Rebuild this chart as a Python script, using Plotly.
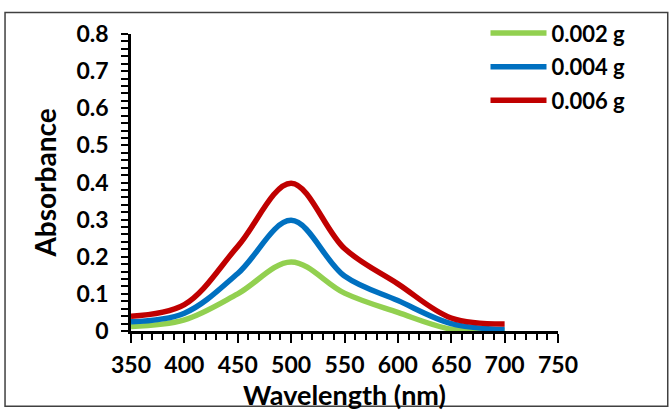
import plotly.graph_objects as go

wavelength = [350, 400, 450, 500, 550, 600, 650, 700]
abs_0002 = [0.012, 0.030, 0.100, 0.186, 0.102, 0.050, 0.005, 0.001]
abs_0004 = [0.025, 0.048, 0.155, 0.298, 0.148, 0.082, 0.020, 0.004]
abs_0006 = [0.040, 0.071, 0.228, 0.398, 0.222, 0.127, 0.035, 0.019]
series_names = ["0.002 g", "0.004 g", "0.006 g"]
colors = ["#92D050", "#0070C0", "#C00000"]

x_ticks = [350, 400, 450, 500, 550, 600, 650, 700, 750]

FONT = "Lato"

fig = go.Figure()
for i, (name, ys) in enumerate(zip(series_names, [abs_0002, abs_0004, abs_0006])):
    fig.add_trace(go.Scatter(
        x=wavelength, y=ys, name=name, mode="lines",
        line=dict(color=colors[i], width=5.5, shape="spline", smoothing=1.0),
        legendgroup=f"g{i}",
    ))

axis_common = dict(
    showline=True, linecolor="black", linewidth=2.5,
    ticks="outside", tickcolor="black", tickwidth=2,
    showgrid=False, zeroline=False, automargin=False,
    tickfont=dict(family=FONT, size=23, color="black", weight="bold"),
)

fig.update_xaxes(
    range=[350, 750], tickvals=x_ticks, ticklen=9, ticklabelstandoff=3,
    minor=dict(dtick=10, ticks="outside", ticklen=6, tickwidth=2, tickcolor="black", showgrid=False),
    title=dict(text="<b>Wavelength (nm)</b>", font=dict(family=FONT, size=27, color="black"), standoff=0),
    **axis_common,
)
fig.update_yaxes(
    range=[0, 0.8], dtick=0.1, ticklen=7, ticklabelstandoff=8,
    minor=dict(dtick=0.02, ticks="outside", ticklen=7, tickwidth=2, tickcolor="black", showgrid=False),
    title=dict(text="<b>Absorbance</b>", font=dict(family=FONT, size=28, color="black"), standoff=12),
    **axis_common,
)

fig.update_layout(
    width=672, height=412,
    margin=dict(l=131, r=114, t=26, b=81),
    paper_bgcolor="white", plot_bgcolor="white",
    showlegend=True,
    legend=dict(
        x=1.0, y=1.073, xanchor="center", yanchor="top",
        font=dict(family=FONT, size=22, color="black", weight="bold"),
        itemwidth=56, tracegroupgap=2, bgcolor="rgba(0,0,0,0)",
    ),
    shapes=[dict(
        type="rect", xref="paper", yref="paper",
        x0=-0.295, x1=1.257, y0=-0.253, y1=1.072,
        line=dict(color="#404040", width=1.5), fillcolor="rgba(0,0,0,0)",
    )],
)

fig.write_html("out.html", config={"displayModeBar": False},
               post_script="document.body.style.margin='0';")
